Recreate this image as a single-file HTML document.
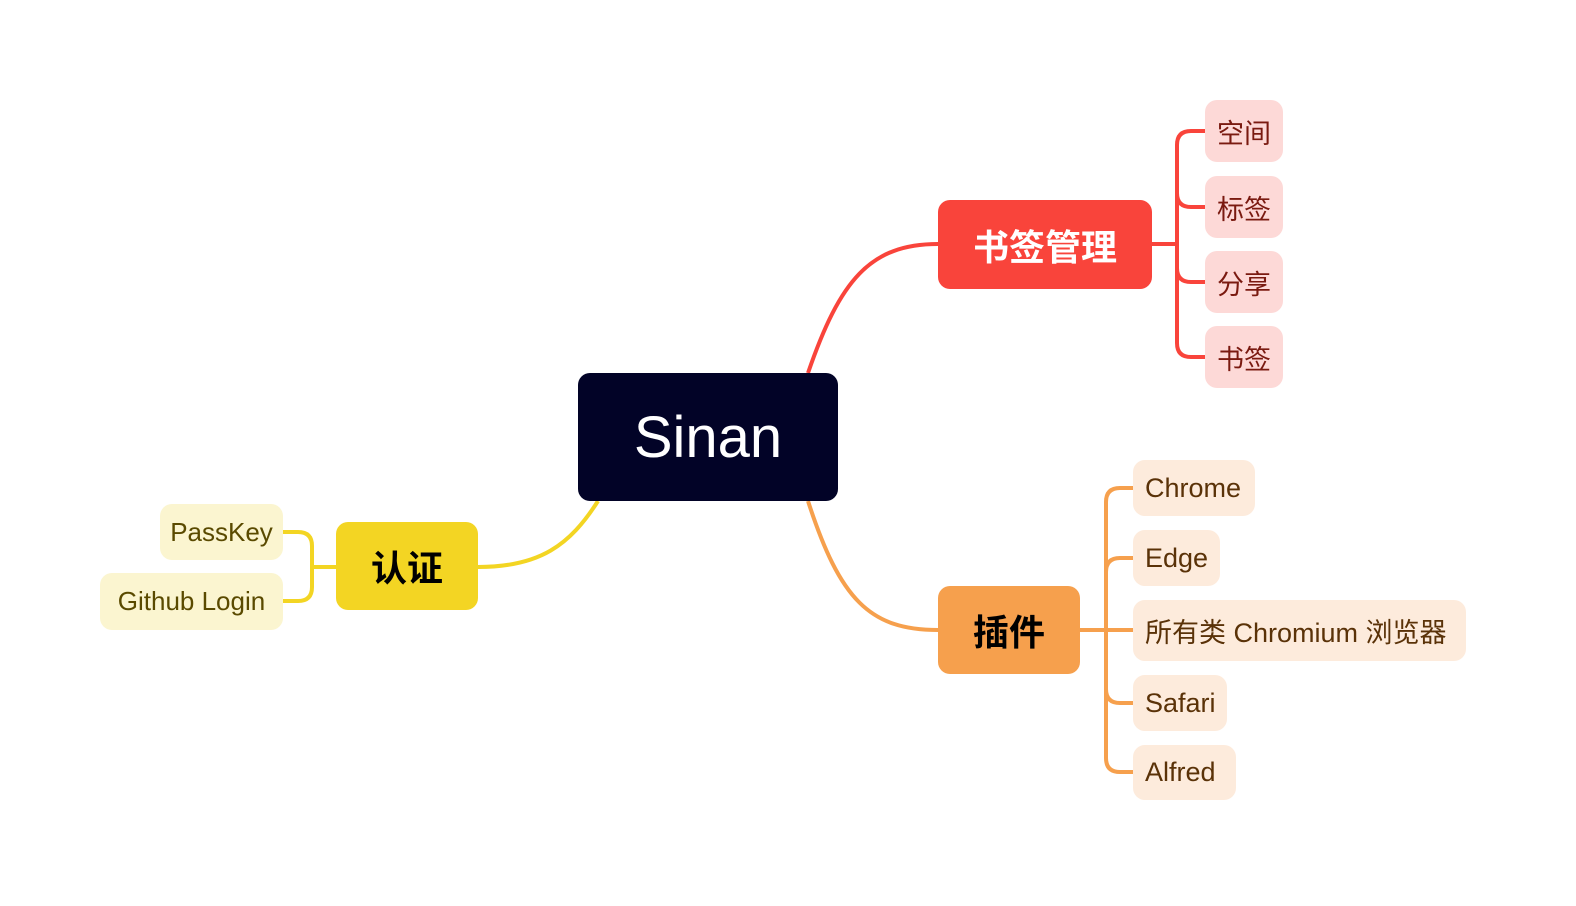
<!DOCTYPE html>
<html><head><meta charset="utf-8"><style>
body{margin:0;width:1576px;height:906px;background:#fff;position:relative;overflow:hidden;font-family:"Liberation Sans","Noto Sans CJK SC",sans-serif}
.n{position:absolute;display:flex;align-items:center;justify-content:center;box-sizing:border-box;white-space:nowrap}
.r{background:#fdd9d7;color:#7a1a10;font-size:27px;border-radius:12px}
.o{background:#fdebdc;color:#5a3208;font-size:27px;border-radius:12px;justify-content:flex-start;padding-left:12px}
.y{background:#fbf5d0;color:#5a4a00;font-size:26px;border-radius:12px}
.b{font-size:36px;font-weight:bold;border-radius:12px}
</style></head><body>
<svg width="1576" height="906" style="position:absolute;left:0;top:0" fill="none" stroke-width="4">
<path d="M808 373 C840 280 870 244 938 244" stroke="#f9443b"/>
<path d="M1152 244 H1177 M1205 131 H1191 Q1177 131 1177 145 V343 Q1177 357 1191 357 H1205 M1177 193 Q1177 207 1191 207 H1205 M1177 268 Q1177 282 1191 282 H1205" stroke="#f9443b"/>
<path d="M808 501 C840 600 870 630 938 630" stroke="#f6a04d"/>
<path d="M1080 630 H1133 M1133 488 H1120 Q1106 488 1106 502 V758 Q1106 772 1120 772 H1133 M1106 572 Q1106 558 1120 558 H1133 M1106 689 Q1106 703 1120 703 H1133" stroke="#f6a04d"/>
<path d="M598 501 C570 545 540 567 478 567" stroke="#f3d523"/>
<path d="M336 567 H312 M283 532 H298 Q312 532 312 546 V587 Q312 601 298 601 H283" stroke="#f3d523"/>
</svg>
<div class="n" style="left:578px;top:373px;width:260px;height:128px;background:#020327;color:#fff;font-size:58px;border-radius:12px">Sinan</div>
<div class="n b" style="left:938px;top:200px;width:214px;height:89px;background:#f9443b;color:#fff">书签管理</div>
<div class="n b" style="left:938px;top:586px;width:142px;height:88px;background:#f6a04d;color:#000">插件</div>
<div class="n b" style="left:336px;top:522px;width:142px;height:88px;background:#f3d523;color:#000">认证</div>
<div class="n r" style="left:1205px;top:100px;width:78px;height:62px">空间</div>
<div class="n r" style="left:1205px;top:176px;width:78px;height:62px">标签</div>
<div class="n r" style="left:1205px;top:251px;width:78px;height:62px">分享</div>
<div class="n r" style="left:1205px;top:326px;width:78px;height:62px">书签</div>
<div class="n o" style="left:1133px;top:460px;width:122px;height:56px">Chrome</div>
<div class="n o" style="left:1133px;top:530px;width:87px;height:56px">Edge</div>
<div class="n o" style="left:1133px;top:600px;width:333px;height:61px">所有类 Chromium 浏览器</div>
<div class="n o" style="left:1133px;top:675px;width:94px;height:56px">Safari</div>
<div class="n o" style="left:1133px;top:745px;width:103px;height:55px">Alfred</div>
<div class="n y" style="left:160px;top:504px;width:123px;height:56px">PassKey</div>
<div class="n y" style="left:100px;top:573px;width:183px;height:57px">Github Login</div>
</body></html>
